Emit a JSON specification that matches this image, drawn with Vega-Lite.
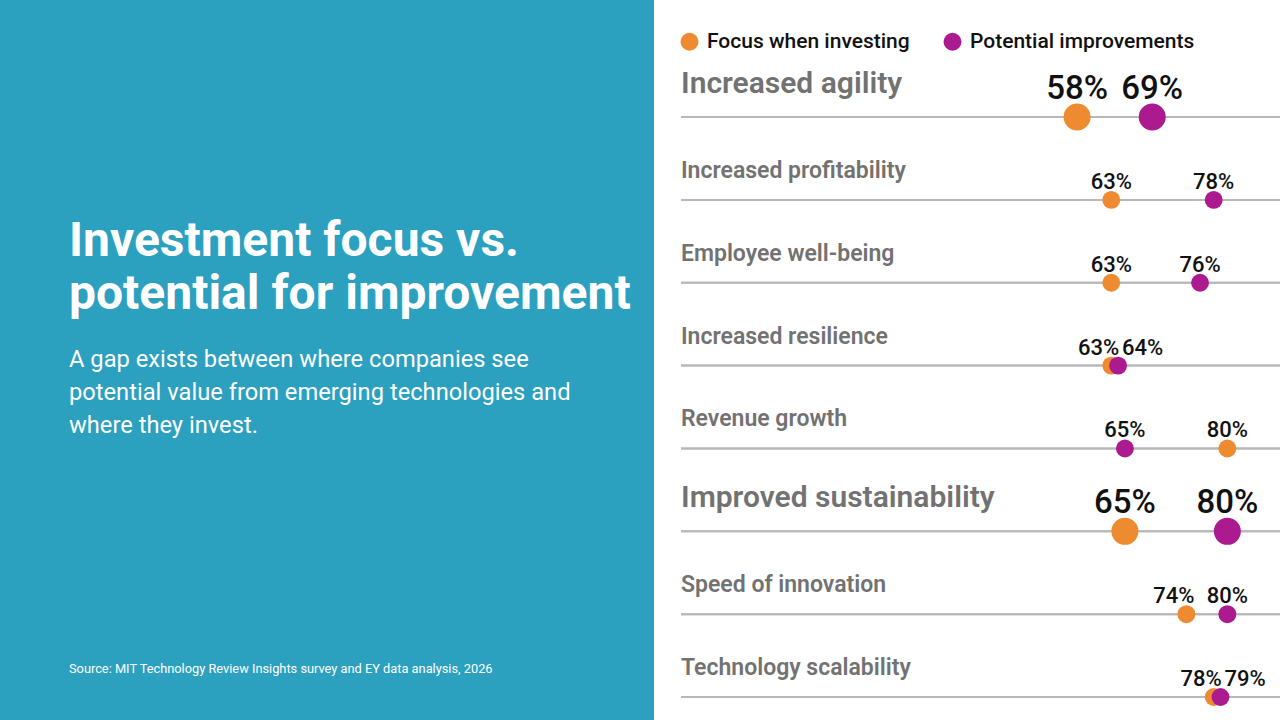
{
  "$schema": "https://vega.github.io/schema/vega-lite/v6.json",
  "padding": 0,
  "background": "white",
  "spacing": 26,
  "title": {
    "text": "Source: MIT Technology Review Insights survey and EY data analysis, 2026",
    "orient": "bottom",
    "anchor": "start",
    "frame": "group",
    "offset": -57,
    "dx": 69,
    "font": "Roboto",
    "fontSize": 12.8,
    "fontWeight": 400,
    "color": "white"
  },
  "config": {
    "view": {"stroke": null},
    "font": "Roboto",
    "axis": {"disable": true}
  },
  "hconcat": [
    {
      "width": 654,
      "height": 720,
      "data": {"values": [{"panel": "intro"}]},
      "mark": {"type": "rect", "color": "#2CA0BF"},
      "encoding": {},
      "title": {
        "text": ["Investment focus vs.", "potential for improvement"],
        "subtitle": ["A gap exists between where companies see", "potential value from emerging technologies and", "where they invest."],
        "orient": "top",
        "anchor": "start",
        "frame": "group",
        "offset": -438,
        "dx": 69,
        "font": "Roboto",
        "fontSize": 48,
        "fontWeight": 700,
        "lineHeight": 53,
        "color": "white",
        "subtitleFont": "Roboto",
        "subtitleFontSize": 23.7,
        "subtitleFontWeight": 400,
        "subtitleColor": "white",
        "subtitleLineHeight": 33,
        "subtitlePadding": 29
      }
    },
    {
      "width": 601,
      "height": 720,
      "data": {"values": [
        {"category": "Increased agility", "series": "Focus when investing", "value": 0.58},
        {"category": "Increased profitability", "series": "Focus when investing", "value": 0.63},
        {"category": "Employee well-being", "series": "Focus when investing", "value": 0.63},
        {"category": "Increased resilience", "series": "Focus when investing", "value": 0.63},
        {"category": "Revenue growth", "series": "Focus when investing", "value": 0.80},
        {"category": "Improved sustainability", "series": "Focus when investing", "value": 0.65},
        {"category": "Speed of innovation", "series": "Focus when investing", "value": 0.74},
        {"category": "Technology scalability", "series": "Focus when investing", "value": 0.78},
        {"category": "Increased agility", "series": "Potential improvements", "value": 0.69},
        {"category": "Increased profitability", "series": "Potential improvements", "value": 0.78},
        {"category": "Employee well-being", "series": "Potential improvements", "value": 0.76},
        {"category": "Increased resilience", "series": "Potential improvements", "value": 0.64},
        {"category": "Revenue growth", "series": "Potential improvements", "value": 0.65},
        {"category": "Improved sustainability", "series": "Potential improvements", "value": 0.80},
        {"category": "Speed of innovation", "series": "Potential improvements", "value": 0.80},
        {"category": "Technology scalability", "series": "Potential improvements", "value": 0.79}
      ]},
      "transform": [
        {"joinaggregate": [{"op": "min", "field": "value", "as": "lo"}, {"op": "max", "field": "value", "as": "hi"}], "groupby": ["category"]}
      ],
      "encoding": {
        "y": {
          "field": "category",
          "type": "nominal",
          "sort": ["Increased agility", "Increased profitability", "Employee well-being", "Increased resilience", "Revenue growth", "Improved sustainability", "Speed of innovation", "Technology scalability"],
          "scale": {"type": "point", "padding": 0.845, "align": 0.836},
          "axis": null
        }
      },
      "layer": [
        {
          "mark": {"type": "rule", "color": "#b8b8b8", "strokeWidth": 2},
          "encoding": {}
        },
        {
          "transform": [{"filter": "datum.series === 'Focus when investing' && (datum.category === 'Increased agility' || datum.category === 'Improved sustainability')"}],
          "mark": {"type": "text", "align": "left", "baseline": "alphabetic", "dy": -24, "fontSize": 30, "fontWeight": 600, "color": "#727272"},
          "encoding": {
            "x": {"datum": 0, "type": "quantitative", "axis": null},
            "text": {"field": "category", "type": "nominal"}
          }
        },
        {
          "transform": [{"filter": "datum.series === 'Focus when investing' && datum.category !== 'Increased agility' && datum.category !== 'Improved sustainability'"}],
          "mark": {"type": "text", "align": "left", "baseline": "alphabetic", "dy": -22, "fontSize": 23, "fontWeight": 600, "color": "#727272"},
          "encoding": {
            "x": {"datum": 0, "type": "quantitative", "axis": null},
            "text": {"field": "category", "type": "nominal"}
          }
        },
        {
          "transform": [{"filter": "datum.category !== 'Increased agility' && datum.category !== 'Improved sustainability'"}],
          "mark": {"type": "point", "shape": "circle", "filled": true, "opacity": 1, "size": 320},
          "encoding": {
            "x": {
              "field": "value",
              "type": "quantitative",
              "scale": {"domain": [0, 0.88], "nice": false, "zero": false},
              "axis": null
            },
            "color": {
              "field": "series",
              "type": "nominal",
              "scale": {"domain": ["Focus when investing", "Potential improvements"], "range": ["#EE8A2F", "#AC1A8F"]},
              "legend": {
                "orient": "none",
                "legendX": 679,
                "legendY": 31,
                "direction": "horizontal",
                "title": null,
                "symbolType": "circle",
                "symbolSize": 324,
                "symbolOpacity": 1,
                "labelFont": "Roboto",
                "labelFontSize": 21,
                "labelFontWeight": 500,
                "labelColor": "#111111",
                "labelOffset": 7,
                "columnPadding": 32,
                "labelLimit": 400
              }
            }
          }
        },
        {
          "transform": [{"filter": "datum.category === 'Increased agility' || datum.category === 'Improved sustainability'"}],
          "mark": {"type": "point", "shape": "circle", "filled": true, "opacity": 1, "size": 730},
          "encoding": {
            "x": {"field": "value", "type": "quantitative", "axis": null},
            "color": {"field": "series", "type": "nominal"}
          }
        },
        {
          "transform": [{"filter": "datum.category === 'Increased agility' || datum.category === 'Improved sustainability'"}],
          "mark": {"type": "text", "align": "center", "baseline": "alphabetic", "dy": -18, "fontSize": 33, "fontWeight": 500, "color": "#111111"},
          "encoding": {
            "x": {"field": "value", "type": "quantitative", "axis": null},
            "text": {"field": "value", "type": "quantitative", "format": ".0%"}
          }
        },
        {
          "transform": [{"filter": "datum.category !== 'Increased agility' && datum.category !== 'Improved sustainability' && (datum.hi - datum.lo >= 0.07 || (datum.hi - datum.lo >= 0.05 && datum.value === datum.hi))"}],
          "mark": {"type": "text", "align": "center", "baseline": "alphabetic", "dy": -11, "fontSize": 22, "fontWeight": 500, "color": "#111111"},
          "encoding": {
            "x": {"field": "value", "type": "quantitative", "axis": null},
            "text": {"field": "value", "type": "quantitative", "format": ".0%"}
          }
        },
        {
          "transform": [{"filter": "datum.hi - datum.lo < 0.07 && datum.value === datum.lo"}],
          "mark": {"type": "text", "align": "right", "baseline": "alphabetic", "dx": 8, "dy": -11, "fontSize": 22, "fontWeight": 500, "color": "#111111"},
          "encoding": {
            "x": {"field": "value", "type": "quantitative", "axis": null},
            "text": {"field": "value", "type": "quantitative", "format": ".0%"}
          }
        },
        {
          "transform": [{"filter": "datum.hi - datum.lo < 0.05 && datum.value === datum.hi"}],
          "mark": {"type": "text", "align": "left", "baseline": "alphabetic", "dx": 4, "dy": -11, "fontSize": 22, "fontWeight": 500, "color": "#111111"},
          "encoding": {
            "x": {"field": "value", "type": "quantitative", "axis": null},
            "text": {"field": "value", "type": "quantitative", "format": ".0%"}
          }
        }
      ]
    }
  ]
}
